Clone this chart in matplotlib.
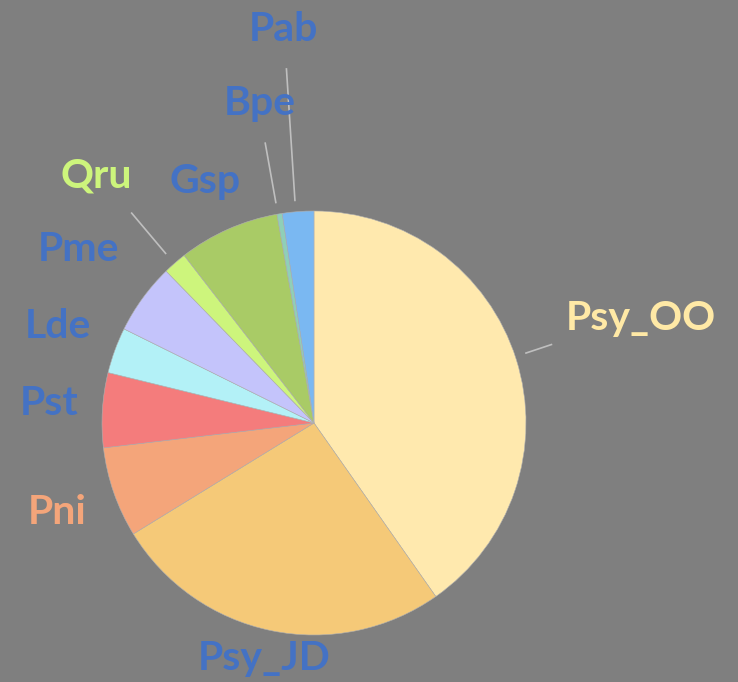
import matplotlib.pyplot as plt

species = ["Psy_OO", "Psy_JD", "Pni", "Pst", "Lde", "Pme", "Qru", "Gsp", "Bpe", "Pab"]
shares = [40.3, 26.0, 6.9, 5.7, 3.5, 5.4, 1.8, 7.7, 0.4, 2.4]
wedge_colors = ["#FFE9AE", "#F5C978", "#F4A57A", "#F47C7C", "#B3F1F7",
                "#C4C4FB", "#CDF57C", "#A9CB66", "#8FCFB8", "#7AB8F2"]
label_colors = ["#FFE9A6", "#4472C4", "#F4A57A", "#4472C4", "#4472C4",
                "#4472C4", "#CDF57C", "#4472C4", "#4472C4", "#4472C4"]
# label centre in pie-radius units, and leader line (start, end) or None
label_pos = [(1.54, 0.495), (-0.236, -1.11), (-1.21, -0.42), (-1.25, 0.094),
             (-1.21, 0.453), (-1.11, 0.82), (-1.028, 1.165), (-0.514, 1.14),
             (-0.255, 1.505), (-0.142, 1.854)]
leaders = {0: ((1.0, 0.33), (1.12, 0.37)),
           6: ((-0.70, 0.80), (-0.86, 0.99)),
           8: ((-0.18, 1.04), (-0.23, 1.32)),
           9: ((-0.09, 1.05), (-0.13, 1.67))}

W, H = 738, 682
fig = plt.figure(figsize=(W / 100, H / 100), dpi=100, facecolor="#7F7F7F")
cx, cy, r = 314, 423, 212
ax = fig.add_axes([(cx - r) / W, (H - cy - r) / H, 2 * r / W, 2 * r / H])
ax.set_facecolor("#7F7F7F")

wedges, _ = ax.pie(shares, colors=wedge_colors, startangle=90, counterclock=False,
                   wedgeprops=dict(linewidth=0.4, edgecolor="#b0b0b0"))
ax.set_xlim(-1, 1)
ax.set_ylim(-1, 1)
ax.set_aspect("equal")
ax.axis("off")

for i, name in enumerate(species):
    x, y = label_pos[i]
    ax.text(x, y, name, ha="center", va="center", fontsize=29.5, fontweight="bold",
            family="Lato", color=label_colors[i], clip_on=False)
    if i in leaders:
        (x0, y0), (x1, y1) = leaders[i]
        ax.plot([x0, x1], [y0, y1], color="#BFBFBF", lw=1.2, clip_on=False)

fig.savefig("out.png", dpi=100, facecolor=fig.get_facecolor())
